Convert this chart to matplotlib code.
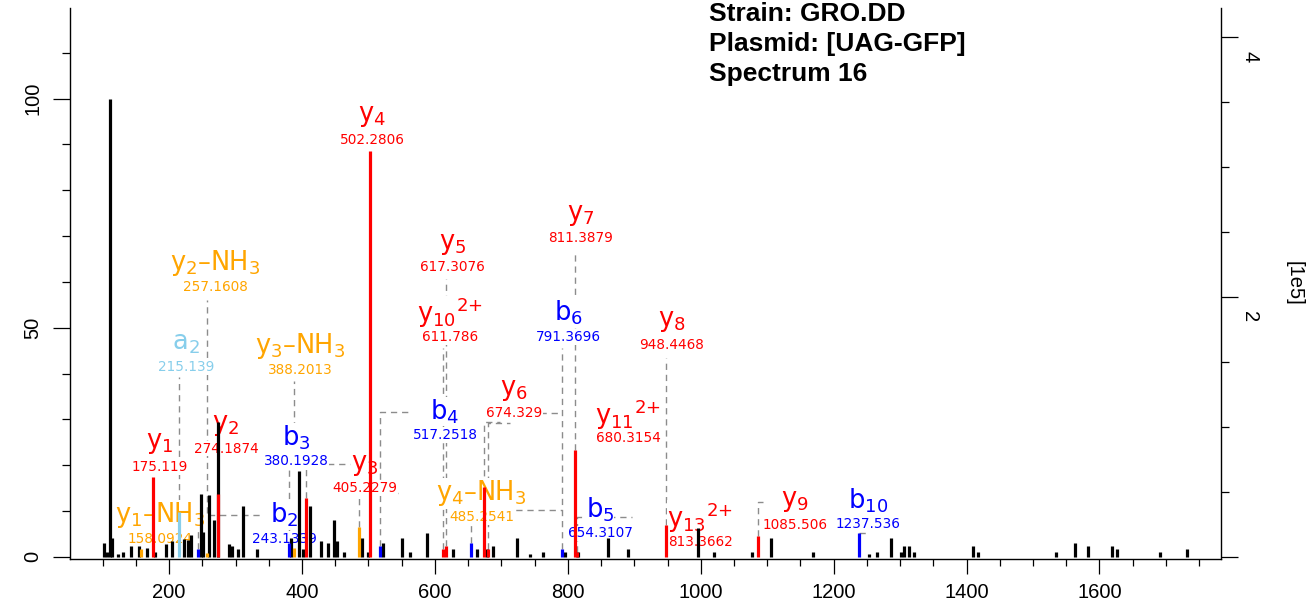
import matplotlib
matplotlib.use('Agg')
import numpy as np
import matplotlib.pyplot as plt
from matplotlib.ticker import FixedLocator, MultipleLocator

# peaks without annotation (m/z, relative intensity %)
other_mz = [102.0, 106.0, 111.1, 114.5, 122.5, 131.1, 142.1, 155.1, 166.1, 179.2,
            194.7, 203.8, 222.9, 228.9, 233.0, 247.4, 251.4, 259.5, 267.5, 273.0,
            290.6, 294.1, 303.1, 311.6, 331.7, 382.9, 395.5, 400.9, 412.0, 428.0,
            439.5, 447.5, 452.0, 463.5, 490.7, 498.8, 522.3, 550.9, 562.5, 587.6,
            627.7, 662.8, 678.8, 687.8, 723.0, 743.0, 763.0, 795.7, 815.8, 860.0,
            891.0, 996.3, 1020.4, 1076.7, 1105.3, 1169.4, 1253.7, 1265.7, 1285.8, 1301.3,
            1305.8, 1313.8, 1321.4, 1410.2, 1417.7, 1534.7, 1563.2, 1583.3, 1618.5, 1626.9,
            1691.2, 1731.3]
other_int = [2.9, 1.1, 100.0, 4.0, 0.6, 1.1, 2.3, 2.3, 1.8, 1.1,
             2.8, 3.4, 3.9, 3.6, 4.7, 13.8, 5.4, 13.5, 8.1, 29.5,
             2.8, 2.3, 1.6, 11.0, 1.6, 4.0, 18.8, 1.6, 11.0, 3.5,
             3.1, 8.1, 3.5, 1.1, 4.0, 1.1, 2.9, 4.0, 1.1, 5.2,
             1.6, 1.6, 1.6, 2.3, 4.0, 0.6, 1.1, 1.1, 1.1, 4.0,
             1.6, 6.3, 1.1, 1.1, 4.0, 1.1, 0.6, 1.1, 4.0, 1.1,
             2.3, 2.3, 1.1, 2.3, 1.1, 1.1, 2.9, 2.3, 2.3, 1.6,
             1.1, 1.6]

# annotated fragment ions
ion_names = ['y1-NH3', 'y1', 'a2', 'b2', 'y2-NH3', 'y2', 'b3', 'y3-NH3', 'y3',
             'y4-NH3', 'y4', 'b4', 'y10(2+)', 'y5', 'b5', 'y6', 'y11(2+)', 'b6',
             'y7', 'y13(2+)', 'y8', 'y9', 'b10']
ion_mz = [158.0924, 175.119, 215.139, 243.1339, 257.1608, 274.1874, 380.1928, 388.2013, 405.2279,
          485.2541, 502.2806, 517.2518, 611.786, 617.3076, 654.3107, 674.329, 680.3154, 791.3696,
          811.3879, 813.3662, 948.4468, 1085.506, 1237.536]
ion_int = [1.6, 17.5, 9.8, 1.7, 0.8, 13.8, 2.9, 1.8, 12.8,
           6.5, 88.5, 2.3, 1.6, 2.3, 2.9, 15.3, 1.6, 1.6,
           23.3, 1.1, 6.9, 4.6, 5.1]
ion_type = ['nh3', 'y', 'a', 'b', 'nh3', 'y', 'b', 'nh3', 'y',
            'nh3', 'y', 'b', 'y', 'y', 'b', 'y', 'y', 'b',
            'y', 'y', 'y', 'y', 'b']

# where each label sits (m/z, %) - position of the m/z line of the label
label_x = [186.2, 186.2, 225.4, 373.0, 269.0, 285.6, 391.0, 397.0, 494.8,
           670.4, 505.3, 615.1, 622.7, 626.7, 848.4, 719.0, 891.0, 800.7,
           819.8, 998.9, 956.3, 1141.9, 1252.0]
label_y = [3.9, 19.6, 41.4, 3.9, 58.9, 23.6, 20.9, 40.8, 14.9,
           8.7, 91.0, 26.6, 48.0, 63.2, 5.1, 31.3, 25.9, 48.0,
           69.5, 3.3, 46.2, 6.9, 7.1]

# dashed leader lines from peaks to labels
leaders = [
    [(215.139, 9.8), (215.139, 39.3)],
    [(257.1608, 9.5), (257.1608, 56.0)],
    [(388.2013, 28.0), (388.2013, 38.3)],
    [(380.1928, 2.9), (380.1928, 18.9)],
    [(243.1339, 1.7), (243.1339, 9.1), (339.7, 9.1)],
    [(405.2279, 12.8), (405.2279, 20.2), (472.0, 20.2)],
    [(485.2541, 6.5), (485.2541, 13.9), (545.0, 13.9)],
    [(517.2518, 2.3), (517.2518, 31.5), (565.0, 31.5)],
    [(617.3076, 2.3), (617.3076, 60.6)],
    [(611.786, 1.6), (611.786, 45.6)],
    [(674.329, 15.3), (674.329, 29.4), (698.0, 29.4)],
    [(680.3154, 1.6), (680.3154, 29.2), (713.0, 29.2)],
    [(758.0, 31.4), (791.3696, 31.4)],
    [(791.3696, 1.6), (791.3696, 45.6)],
    [(811.3879, 23.3), (811.3879, 66.9)],
    [(654.3107, 2.9), (654.3107, 10.2), (791.3696, 10.2)],
    [(813.3662, 1.1), (813.3662, 8.6), (896.6, 8.6)],
    [(948.4468, 6.9), (948.4468, 43.3)],
    [(1085.506, 4.6), (1085.506, 12.0), (1094.0, 12.0)],
    [(1237.536, 5.2), (1250.0, 5.2)],
]

colors = {'y': '#ff0000', 'b': '#0000ff', 'a': '#87ceeb', 'nh3': '#ffa500'}


def fmt_ion(name):
    if name.endswith('-NH3'):
        base = name[:-4]
        return r'$\mathregular{%s_{%s}}$–NH$\mathregular{_{3}}$' % (base[0], base[1:])
    if name.endswith('(2+)'):
        base = name[:-4]
        return r'$\mathregular{%s_{%s}{}^{2{+}}}$' % (base[0], base[1:])
    return r'$\mathregular{%s_{%s}}$' % (name[0], name[1:])


def fmt_mz(v):
    s = '%.4f' % v
    return s.rstrip('0').rstrip('.')


fig = plt.figure(figsize=(13.09, 6.05), dpi=100)
ax = fig.add_axes([70 / 1309, 1 - 559 / 605, 1150.5 / 1309, 551 / 605])

ax.set_xlim(50.8, 1782.2)
ax.set_ylim(-0.5, 119.8)

# leader lines
for path in leaders:
    xs = [p[0] for p in path]
    ys = [p[1] for p in path]
    ax.plot(xs, ys, color='#8c8c8c', lw=1.0, ls=(0, (4.5, 3.5)), zorder=1)

# labels
for i in range(len(ion_names)):
    c = colors[ion_type[i]]
    ax.text(label_x[i], label_y[i], fmt_mz(ion_mz[i]), color=c, fontsize=9.8,
            family='DejaVu Sans', ha='center', va='center', zorder=2,
            bbox=dict(facecolor='white', edgecolor='none', pad=0.6))
    ax.annotate(fmt_ion(ion_names[i]), (label_x[i], label_y[i]), xytext=(0, 17),
                textcoords='offset points', color=c, fontsize=18.5,
                family='DejaVu Sans', ha='center', va='center', zorder=2,
                bbox=dict(facecolor='white', edgecolor='none', pad=0.2))

# peaks
ax.vlines(other_mz, 0, other_int, color='black', lw=2.3, zorder=3)
ax.vlines(ion_mz, 0, ion_int, color=[colors[t] for t in ion_type], lw=2.3, zorder=4)

ax.spines['top'].set_visible(False)
ax.spines['right'].set_visible(False)
for s in ['left', 'bottom']:
    ax.spines[s].set_linewidth(1.0)

ax.xaxis.set_major_locator(FixedLocator(np.arange(200, 1601, 200)))
ax.xaxis.set_minor_locator(FixedLocator(np.arange(100, 1751, 50)))
ax.yaxis.set_major_locator(FixedLocator([0, 50, 100]))
ax.yaxis.set_minor_locator(FixedLocator(np.arange(0, 111, 10)))
ax.tick_params(axis='x', which='major', length=11, width=0.9, labelsize=14.5, pad=6)
ax.tick_params(axis='x', which='minor', length=5, width=0.9)
ax.tick_params(axis='y', which='major', length=12, width=0.9, labelsize=14.5, pad=8)
ax.tick_params(axis='y', which='minor', length=6, width=0.9)
for lab in ax.get_yticklabels():
    lab.set_rotation(90)
    lab.set_va('center')
for lab in ax.get_xticklabels() + ax.get_yticklabels():
    lab.set_family('Liberation Sans')

# right axis in absolute intensity (labels drawn a bit below their ticks)
scale = 4.58 / 130.0
right_ticks = [0, 2, 4]
right_labels = ['', '2', '4']
ax2 = ax.twinx()
ax2.set_ylim(-0.5 * scale, 119.8 * scale)
for s in ['top', 'left', 'bottom']:
    ax2.spines[s].set_visible(False)
ax2.spines['right'].set_linewidth(1.0)
ax2.yaxis.set_major_locator(FixedLocator(right_ticks))
ax2.yaxis.set_minor_locator(MultipleLocator(0.5))
ax2.set_yticklabels([])
ax2.tick_params(axis='y', which='major', length=12, width=0.9)
ax2.tick_params(axis='y', which='minor', length=6, width=0.9)
for t, lab in zip(right_ticks, right_labels):
    ax2.annotate(lab, (1.0, t), xycoords=('axes fraction', 'data'),
                 xytext=(21, -14), textcoords='offset points', rotation=-90,
                 fontsize=14.5, family='Liberation Sans', ha='center', va='center')
ax2.annotate('[1e5]', (1.0, 0.5), xycoords='axes fraction', xytext=(53, 0),
             textcoords='offset points', rotation=-90, fontsize=14.5,
             family='Liberation Sans', ha='center', va='center')

# header text
info = ['Strain: GRO.DD', 'Plasmid: [UAG-GFP]', 'Spectrum 16']
for k, line in enumerate(info):
    fig.text(709 / 1309, 1 - (14 + 30 * k) / 605, line, fontsize=19,
             fontweight='bold', family='Liberation Sans', ha='left', va='center')

fig.savefig('out.png', dpi=100)
